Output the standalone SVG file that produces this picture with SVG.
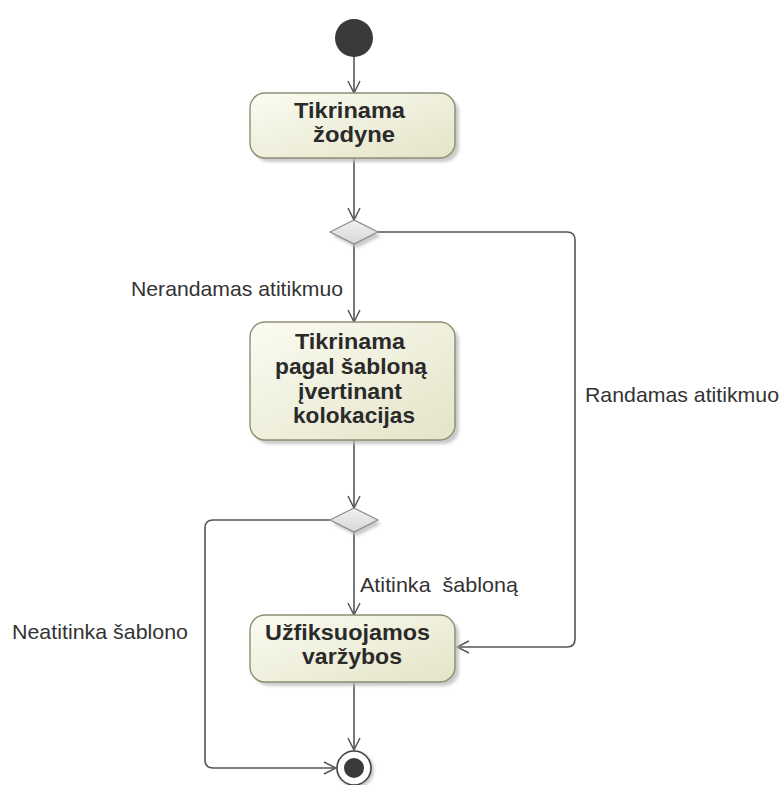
<svg xmlns="http://www.w3.org/2000/svg" width="782" height="785" viewBox="0 0 782 785">
  <style>
    .flow { fill: none; stroke: #555; stroke-width: 1.6; }
    .act { fill: url(#actFill); stroke: #8e8e74; stroke-width: 1.4; }
    .shadow { fill: #bdbdbd; opacity: 0.8; }
    .actText { font-family: "Liberation Sans", Arial, sans-serif; font-size: 22px; font-weight: bold; fill: #2a2a2a; }
    .guard { font-family: "Liberation Sans", Arial, sans-serif; font-size: 21px; fill: #333; }
    .dec { fill: url(#decFill); stroke: #8a8a8a; stroke-width: 1.2; }
  </style>
  <defs>
    <linearGradient id="actFill" x1="0" y1="0" x2="1" y2="1">
      <stop offset="0" stop-color="#fbfbf2"/>
      <stop offset="1" stop-color="#e4e4c8"/>
    </linearGradient>
    <linearGradient id="decFill" x1="0" y1="0" x2="0" y2="1">
      <stop offset="0" stop-color="#f2f2f2"/>
      <stop offset="1" stop-color="#d6d6d6"/>
    </linearGradient>
    <filter id="soft" x="-10%" y="-10%" width="130%" height="130%">
      <feGaussianBlur stdDeviation="1.5"/>
    </filter>
    <marker id="open" viewBox="0 0 14 14" refX="13" refY="7" markerWidth="14" markerHeight="14" markerUnits="userSpaceOnUse" orient="auto">
      <path d="M1,1 L13,7 L1,13" fill="none" stroke="#555" stroke-width="1.5"/>
    </marker>
  </defs>

  <!-- control flows -->
  <g id="connectors">
    <line class="flow" x1="354" y1="56" x2="354" y2="93" marker-end="url(#open)"/>
    <line class="flow" x1="354" y1="158" x2="354" y2="220" marker-end="url(#open)"/>
    <line class="flow" x1="354" y1="244" x2="354" y2="322" marker-end="url(#open)"/>
    <path class="flow" d="M378,232 H567 Q575,232 575,240 V639 Q575,647 567,647 H457" marker-end="url(#open)"/>
    <line class="flow" x1="354" y1="440" x2="354" y2="508" marker-end="url(#open)"/>
    <line class="flow" x1="354" y1="532" x2="354" y2="615" marker-end="url(#open)"/>
    <path class="flow" d="M330,520 H213 Q205,520 205,528 V760 Q205,768 213,768 H336" marker-end="url(#open)"/>
    <line class="flow" x1="354" y1="682" x2="354" y2="750" marker-end="url(#open)"/>
    <text class="guard" x="131" y="296" textLength="212" lengthAdjust="spacingAndGlyphs">Nerandamas atitikmuo</text>
    <text class="guard" x="585" y="402" textLength="194" lengthAdjust="spacingAndGlyphs">Randamas atitikmuo</text>
    <text class="guard" x="360" y="592" textLength="158" lengthAdjust="spacingAndGlyphs" xml:space="preserve">Atitinka  šabloną</text>
    <text class="guard" x="12" y="639" textLength="176" lengthAdjust="spacingAndGlyphs">Neatitinka šablono</text>
  </g>

  <g id="start">
    <circle cx="354" cy="38" r="19" fill="#3a3a3a"/>
  </g>

  <g id="tikrinama-zodyne">
    <rect class="shadow" x="254" y="97" width="205" height="65" rx="15" filter="url(#soft)"/>
    <rect class="act" x="250" y="93" width="205" height="65" rx="15"/>
    <text class="actText" x="294" y="118" textLength="111" lengthAdjust="spacingAndGlyphs">Tikrinama</text>
    <text class="actText" x="313" y="142" textLength="82" lengthAdjust="spacingAndGlyphs">žodyne</text>
  </g>

  <g id="decision-1">
    <polygon class="shadow" points="333,236 357,224 381,236 357,248" filter="url(#soft)"/>
    <polygon class="dec" points="330,232 354,220 378,232 354,244"/>
  </g>

  <g id="tikrinama-pagal-sablona">
    <rect class="shadow" x="254" y="326" width="205" height="118" rx="15" filter="url(#soft)"/>
    <rect class="act" x="250" y="322" width="205" height="118" rx="15"/>
    <text class="actText" x="295" y="349" textLength="110" lengthAdjust="spacingAndGlyphs">Tikrinama</text>
    <text class="actText" x="275" y="374" textLength="152" lengthAdjust="spacingAndGlyphs">pagal šabloną</text>
    <text class="actText" x="298" y="399" textLength="104" lengthAdjust="spacingAndGlyphs">įvertinant</text>
    <text class="actText" x="293" y="423" textLength="122" lengthAdjust="spacingAndGlyphs">kolokacijas</text>
  </g>

  <g id="decision-2">
    <polygon class="shadow" points="333,524 357,512 381,524 357,536" filter="url(#soft)"/>
    <polygon class="dec" points="330,520 354,508 378,520 354,532"/>
  </g>

  <g id="uzfiksuojamos-varzybos">
    <rect class="shadow" x="254" y="619" width="205" height="67" rx="15" filter="url(#soft)"/>
    <rect class="act" x="250" y="615" width="205" height="67" rx="15"/>
    <text class="actText" x="265" y="640" textLength="165" lengthAdjust="spacingAndGlyphs">Užfiksuojamos</text>
    <text class="actText" x="302" y="664" textLength="100" lengthAdjust="spacingAndGlyphs">varžybos</text>
  </g>

  <g id="final">
    <circle cx="356" cy="770" r="18" fill="#c8c8c8" filter="url(#soft)"/>
    <circle cx="354" cy="768" r="17" fill="#fff" stroke="#444" stroke-width="1.6"/>
    <circle cx="354" cy="768" r="10" fill="#3a3a3a"/>
  </g>
</svg>
